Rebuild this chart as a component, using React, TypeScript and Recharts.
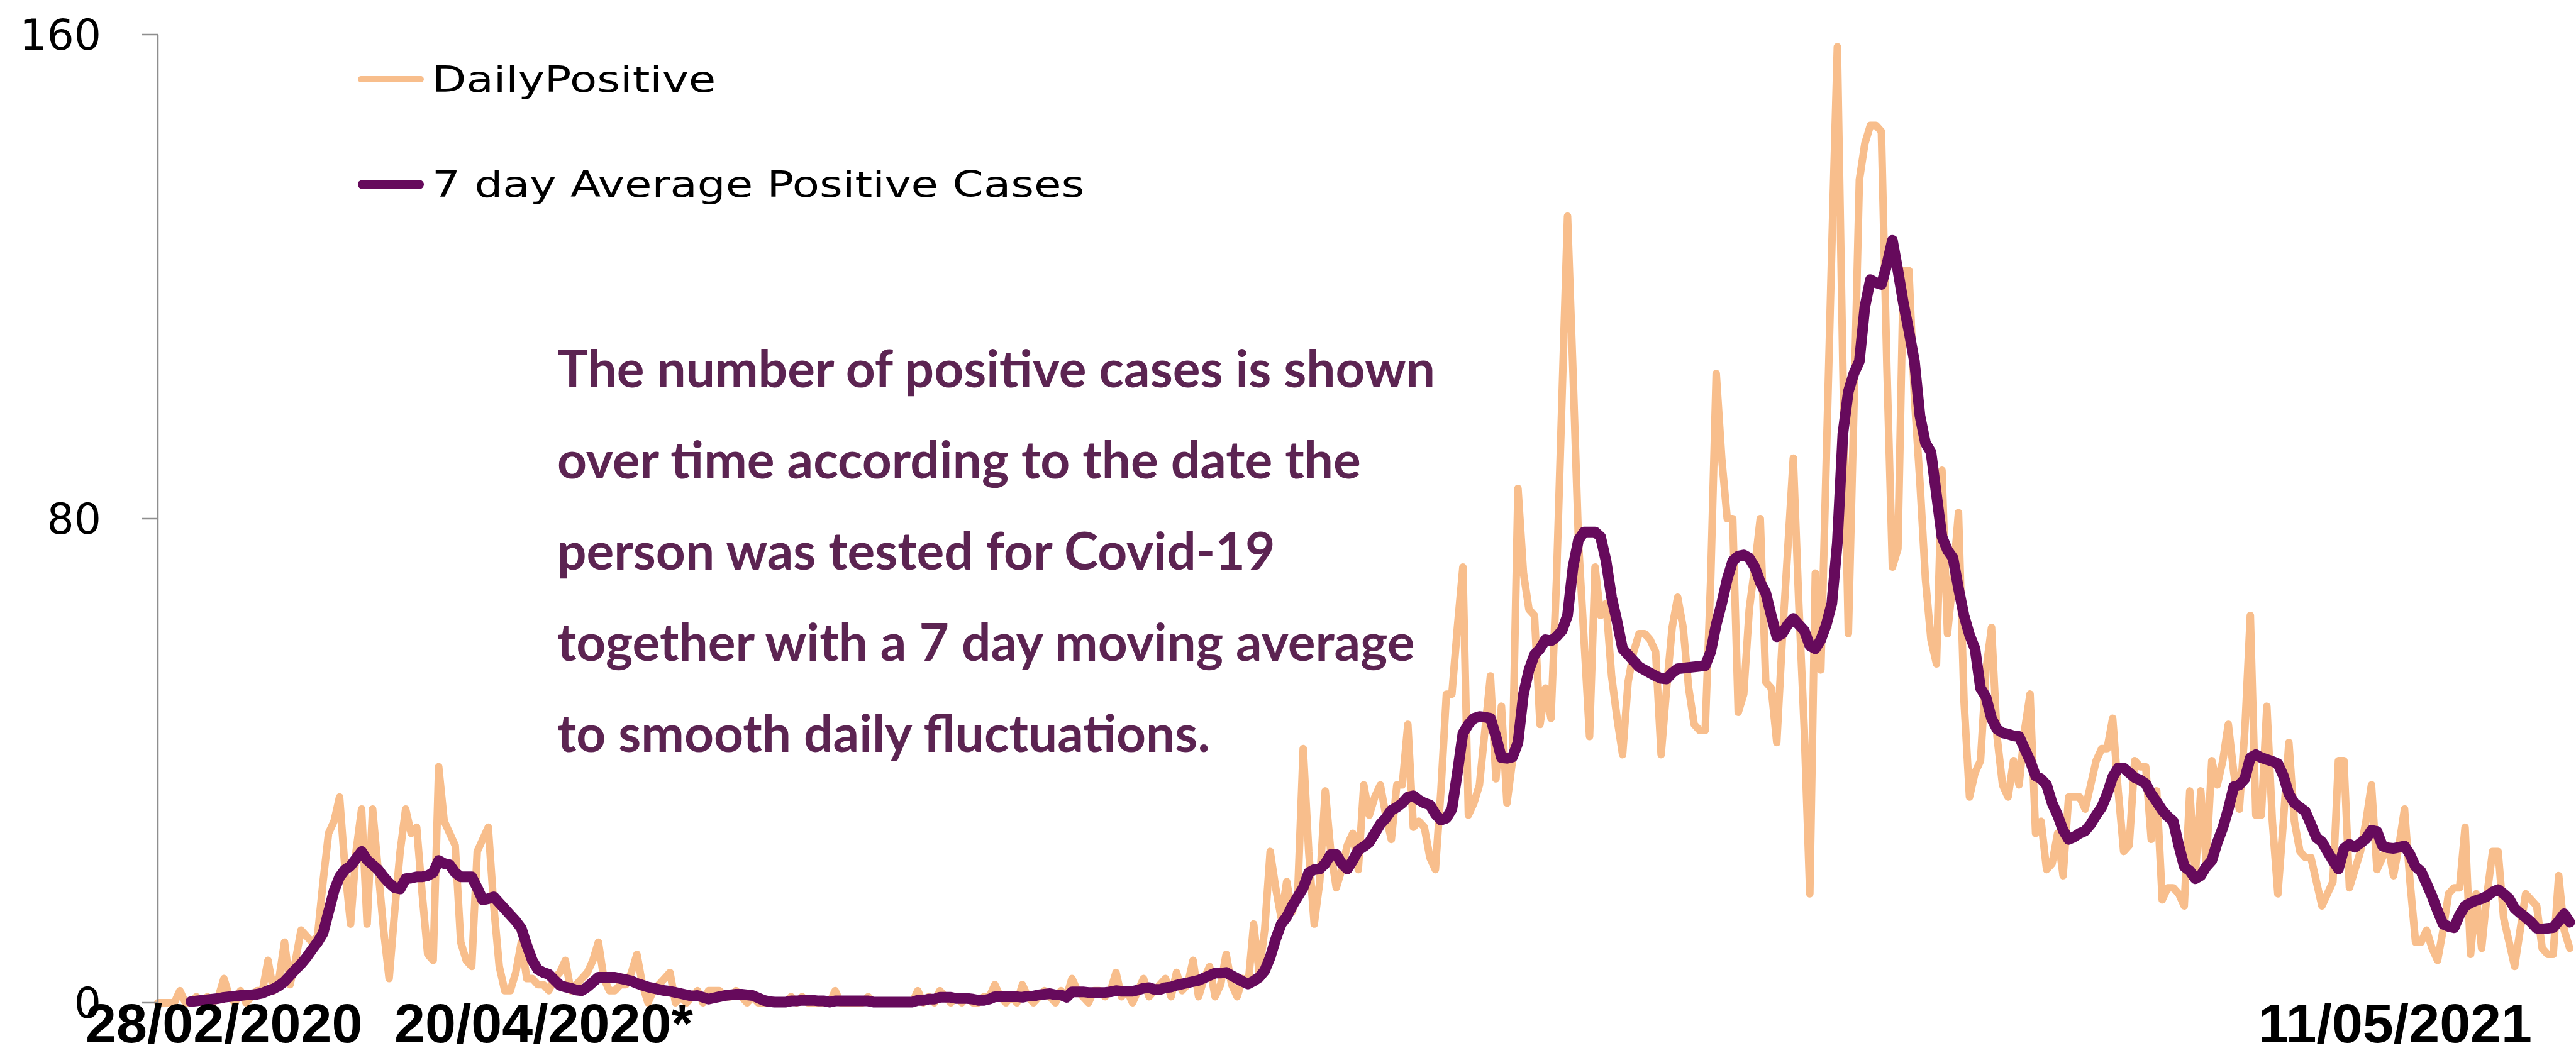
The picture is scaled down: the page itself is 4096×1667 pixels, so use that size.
import React from "react"
import { LineChart, Line, XAxis, YAxis, Legend } from "recharts"

// daily positive cases, one value per day from 28/02/2020 to 11/05/2021
const dailyPositive = [
  0, 0, 0, 0, 2, 0, 0, 1, 0, 1,
  0, 1, 4, 1, 0, 2, 0, 1, 2, 2,
  7, 2, 4, 10, 3, 7, 12, 11, 10, 11,
  20, 28, 30, 34, 22, 13, 25, 32, 13, 32,
  22, 12, 4, 15, 25, 32, 28, 29, 18, 8,
  7, 39, 30, 28, 26, 10, 7, 6, 25, 27,
  29, 16, 6, 2, 2, 5, 10, 4, 4, 3,
  3, 2, 4, 5, 7, 2, 3, 4, 5, 7,
  10, 4, 2, 2, 3, 3, 5, 8, 3, 0,
  2, 3, 4, 5, 0, 1, 0, 1, 2, 0,
  2, 2, 2, 1, 1, 2, 1, 0, 1, 0,
  0, 0, 0, 0, 0, 1, 0, 1, 0, 0,
  0, 0, 0, 2, 0, 0, 0, 0, 0, 1,
  0, 0, 0, 0, 0, 0, 0, 0, 2, 0,
  1, 0, 2, 1, 0, 1, 0, 1, 0, 0,
  1, 1, 3, 1, 0, 1, 0, 3, 1, 0,
  1, 2, 1, 0, 2, 1, 4, 2, 1, 0,
  2, 2, 1, 2, 5, 1, 2, 0, 2, 4,
  1, 2, 3, 4, 1, 5, 2, 3, 7, 1,
  4, 6, 1, 3, 8, 3, 1, 4, 3, 13,
  5, 12, 25, 19, 14, 20, 15, 18, 42, 25,
  13, 20, 35, 25, 19, 22, 26, 28, 22, 36,
  31, 34, 36, 31, 27, 36, 36, 46, 29, 30,
  29, 24, 22, 35, 51, 51, 62, 72, 31, 33,
  36, 45, 54, 37, 49, 33, 40, 85, 71, 65,
  64, 46, 52, 47, 70, 100, 130, 104, 76, 60,
  44, 72, 64, 66, 54, 47, 41, 53, 58, 61,
  61, 60, 58, 41, 52, 62, 67, 62, 52, 46,
  45, 45, 70, 104, 90, 80, 80, 48, 51, 65,
  72, 80, 53, 52, 43, 60, 75, 90, 66, 45,
  18, 71, 55, 90, 125, 158, 105, 61, 98, 136,
  142, 145, 145, 144, 105, 72, 75, 121, 121, 100,
  86, 70, 60, 56, 88, 61, 70, 81, 50, 34,
  38, 40, 55, 62, 44, 36, 34, 40, 36, 45,
  51, 28, 30, 22, 23, 28, 21, 34, 34, 34,
  32, 36, 40, 42, 42, 47, 35, 25, 26, 40,
  39, 39, 27, 35, 17, 19, 19, 18, 16, 35,
  21, 35, 23, 40, 36, 40, 46, 38, 32, 45,
  64, 31, 31, 49, 30, 18, 30, 43, 30, 25,
  24, 24, 20, 16, 18, 20, 40, 40, 19, 22,
  25, 30, 36, 22, 24, 26, 21, 26, 32, 20,
  10, 10, 12, 9, 7, 12, 18, 19, 19, 29,
  8, 18, 9, 18, 25, 25, 14, 10, 6, 12,
  18, 17, 16, 9, 8, 8, 21, 12, 9,
]

// 7 day average
const avg7 = [
  null, null, null, null, null, null, 0.2, 0.3, 0.4, 0.5,
  0.6, 0.7, 0.9, 1.0, 1.1, 1.2, 1.3, 1.3, 1.4, 1.6,
  2.0, 2.3, 2.8, 3.5, 4.5, 5.5, 6.4, 7.5, 8.8, 10.0,
  11.5, 15, 18.5, 20.8, 22, 22.6, 23.8, 25, 23.6, 22.8,
  22, 20.8, 19.8, 19, 18.8, 20.5, 20.6, 20.8, 20.8, 21,
  21.5, 23.5, 23, 22.8, 21.5, 20.8, 20.8, 20.8, 19, 17,
  17.2, 17.5, 16.5, 15.5, 14.5, 13.5, 12.3, 9.5, 7, 5.5,
  5, 4.7, 3.8, 2.9, 2.6, 2.4, 2.1, 2.0, 2.6, 3.4,
  4.2, 4.2, 4.2, 4.2, 4.0, 3.8, 3.6, 3.2, 2.9, 2.6,
  2.4, 2.2, 2.0, 1.9, 1.7, 1.5, 1.3, 1.1, 1.2, 0.9,
  0.6, 0.8, 1.0, 1.2, 1.3, 1.4, 1.4, 1.3, 1.2, 0.8,
  0.4, 0.2, 0.1, 0.1, 0.1, 0.3, 0.3, 0.4, 0.4, 0.4,
  0.3, 0.3, 0.1, 0.3, 0.3, 0.3, 0.3, 0.3, 0.3, 0.3,
  0.1, 0.1, 0.1, 0.1, 0.1, 0.1, 0.1, 0.1, 0.4, 0.4,
  0.6, 0.6, 0.9, 0.9, 0.9, 0.7, 0.7, 0.7, 0.6, 0.4,
  0.4, 0.6, 1.0, 1.0, 1.0, 1.0, 1.0, 0.9, 1.1, 1.1,
  1.3, 1.4, 1.5, 1.3, 1.3, 0.9, 1.8, 1.8, 1.8, 1.7,
  1.7, 1.7, 1.7, 1.8, 2.0, 1.9, 1.9, 1.9, 2.1, 2.4,
  2.5, 2.2, 2.2, 2.5, 2.6, 2.9, 3.1, 3.3, 3.5, 3.7,
  4.1, 4.5, 4.9, 4.9, 5.0, 4.5, 4.0, 3.5, 3.1, 3.6,
  4.2, 5.3, 7.5, 10.5, 13, 14.2, 16, 17.5, 19, 21.5,
  22, 22.1, 23, 24.5, 24.5, 23, 22.1, 23.5, 25.2, 25.8,
  26.5, 28, 29.5, 30.5, 31.8, 32.3, 33, 34, 34.2, 33.5,
  33, 32.7, 31.2, 30.2, 30.5, 32, 38, 44.5, 46, 47,
  47.3, 47.2, 47, 44, 40.5, 40.4, 40.6, 43, 51, 55,
  57.5, 58.5, 60, 59.8, 60.5, 61.5, 64, 72, 76.5, 77.8,
  77.8, 77.8, 77, 73, 67, 63, 58.5, 57.5, 56.5, 55.5,
  55, 54.5, 54, 53.6, 53.5, 54.5, 55.2, 55.3, 55.4, 55.5,
  55.6, 55.7, 58, 62.5, 66, 70, 73, 73.8, 74, 73.5,
  72, 69.5, 67.7, 64, 60.5, 61, 62.5, 63.5, 62.5, 61.5,
  59, 58.5, 60, 62.5, 66, 76, 94, 101, 104, 106,
  115, 119.5, 119, 118.7, 122, 126, 121, 115.6, 111, 106,
  97, 92.5, 91, 84, 77, 74.8, 73.5, 68.5, 64, 60.8,
  58.5, 52, 50.5, 47, 45.2, 44.6, 44.4, 44.1, 44, 42,
  40, 37.5, 37, 36, 33, 31, 28.5, 27, 27.4, 28,
  28.4, 29.5, 31, 32.3, 34.5, 37.3, 38.8, 38.8, 38, 37.2,
  36.8, 36.2, 34.5, 33.2, 31.8, 30.8, 30, 26, 22.5, 21.8,
  20.5, 21, 22.5, 23.5, 26.5, 28.9, 32, 35.7, 36, 37,
  40.5, 41, 40.5, 40.2, 39.9, 39.5, 37.5, 34.5, 33, 32.3,
  31.6, 29.5, 27.3, 26.6, 25, 23.5, 22.1, 25.5, 26.2, 25.7,
  26.4, 27.1, 28.5, 28.3, 25.9, 25.6, 25.5, 25.7, 25.9, 24.5,
  22.5, 21.7, 19.7, 17.6, 15.2, 13, 12.6, 12.4, 14.5, 16,
  16.5, 16.9, 17.2, 17.6, 18.3, 18.7, 18, 17.2, 15.6, 14.8,
  14.1, 13.3, 12.3, 12.2, 12.3, 12.4, 13.5, 14.7, 13.3,
]

const yTicks = [0, 80, 160]
const dateLabels = ["28/02/2020", "20/04/2020*", "11/05/2021"]
const noteLines = [
  "The number of positive cases is shown",
  "over time according to the date the",
  "person was tested for Covid-19",
  "together with a 7 day moving average",
  "to smooth daily fluctuations.",
]

const ORANGE = "#F8BE8C"
const PURPLE = "#660A5C"
const NOTE = "#5C2452"
const GREY = "#8E8E8E"

const start = Date.UTC(2020, 1, 28)
const pad = (n: number) => String(n).padStart(2, "0")
const data = dailyPositive.map((v, i) => {
  const d = new Date(start + i * 86400000)
  return {
    date: `${pad(d.getUTCDate())}/${pad(d.getUTCMonth() + 1)}/${d.getUTCFullYear()}`,
    daily: v,
    avg: avg7[i],
  }
})

const legendItems = [
  { label: "DailyPositive", color: ORANGE, thick: 10, top: 126 },
  { label: "7 day Average Positive Cases", color: PURPLE, thick: 15, top: 293 },
]

function ChartLegend() {
  return (
    <div style={{ position: "relative", width: 1200, height: 330 }}>
      {legendItems.map((it) => (
        <div key={it.label} style={{ position: "absolute", left: 0, top: it.top - 95, height: 0 }}>
          <div
            style={{
              position: "absolute",
              left: 0,
              top: -it.thick / 2,
              width: 105,
              height: it.thick,
              background: it.color,
              borderRadius: it.thick / 2,
            }}
          />
          <div
            style={{
              position: "absolute",
              left: 118,
              top: -34,
              whiteSpace: "nowrap",
              fontFamily: "DejaVu Sans",
              fontSize: 57,
              lineHeight: "68px",
              color: "#000",
              transform: "scaleX(1.24)",
              transformOrigin: "left center",
            }}
          >
            {it.label}
          </div>
        </div>
      ))}
    </div>
  )
}

export default function App() {
  return (
    <div style={{ position: "absolute", left: 0, top: 0, width: 4096, height: 1667, background: "#fff" }}>
      <LineChart width={4096} height={1667} data={data} margin={{ top: 55, right: 10, bottom: 72, left: 0 }}>
        <XAxis dataKey="date" hide />
        <YAxis
          width={251}
          domain={[0, 160]}
          ticks={yTicks}
          interval={0}
          axisLine={{ stroke: GREY, strokeWidth: 2.5 }}
          tickLine={{ stroke: GREY, strokeWidth: 2.5 }}
          tickSize={26}
          tickMargin={64}
          tick={{ fill: "#000", fontSize: 68, fontFamily: "DejaVu Sans" }}
        />
        <Legend
          layout="vertical"
          align="center"
          verticalAlign="middle"
          wrapperStyle={{ left: 569, top: 95, width: 1200, height: 330 }}
          content={() => <ChartLegend />}
        />
        <Line
          type="linear"
          dataKey="daily"
          name="DailyPositive"
          stroke={ORANGE}
          strokeWidth={12}
          strokeLinejoin="round"
          strokeLinecap="round"
          dot={false}
          isAnimationActive={false}
        />
        <Line
          type="linear"
          dataKey="avg"
          name="7 day Average Positive Cases"
          stroke={PURPLE}
          strokeWidth={17}
          strokeLinejoin="round"
          strokeLinecap="round"
          dot={false}
          isAnimationActive={false}
        />
      </LineChart>
      <svg width={4096} height={1667} style={{ position: "absolute", left: 0, top: 0, pointerEvents: "none" }}>
        {noteLines.map((t, i) => (
          <text key={t} x={886} y={616 + i * 145} fill={NOTE} fontFamily="Lato" fontWeight={700} fontSize={82}>
            {t}
          </text>
        ))}
        <text x={136} y={1658} fontFamily="Liberation Sans" fontWeight={700} fontSize={88} fill="#000">
          {dateLabels[0]}
        </text>
        <text x={627} y={1658} fontFamily="Liberation Sans" fontWeight={700} fontSize={88} fill="#000">
          {dateLabels[1]}
        </text>
        <text x={4026} y={1658} textAnchor="end" fontFamily="Liberation Sans" fontWeight={700} fontSize={88} fill="#000">
          {dateLabels[2]}
        </text>
      </svg>
    </div>
  )
}
